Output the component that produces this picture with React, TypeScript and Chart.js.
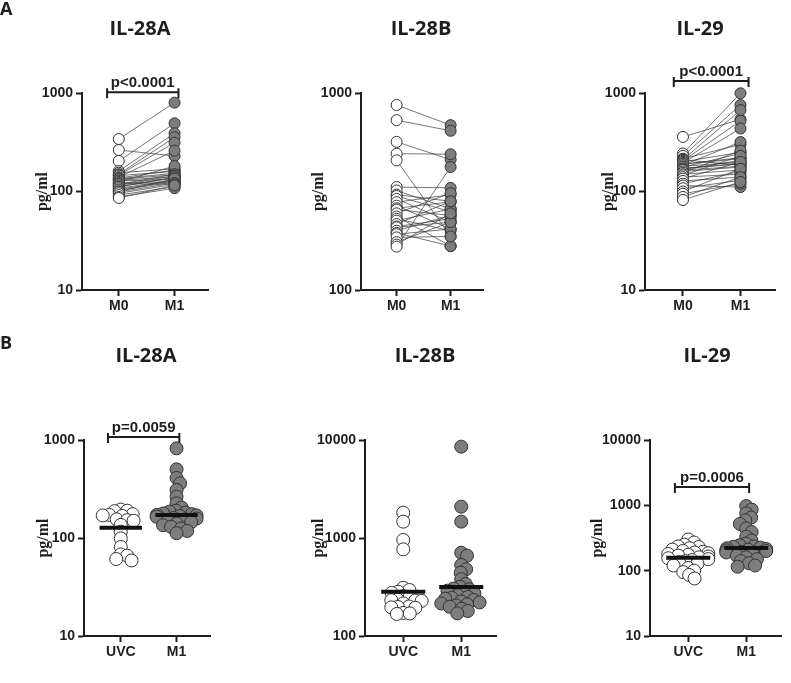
import React, { useEffect, useRef } from 'react';
import { Chart, registerables } from 'chart.js';

Chart.register(...registerables);
Chart.defaults.font.family = "'Liberation Sans', Arial, sans-serif";

// ---------- data ----------
const pairedCategories = ['M0', 'M1'];
const swarmCategories = ['UVC', 'M1'];

// Row A: paired donors (M0 -> M1)
const il28aPairM0 = [341, 264, 204, 161, 155, 150, 147, 145, 140, 137, 135, 133, 130, 128, 125, 122, 120, 118, 115, 112, 111, 108, 105, 103, 100, 99, 96, 92, 88, 86];
const il28aPairM1 = [798, 229, 492, 390, 170, 355, 313, 160, 260, 165, 153, 148, 141, 133, 181, 126, 119, 150, 145, 138, 140, 130, 128, 125, 135, 122, 118, 112, 108, 115];

const il28bPairM0 = [869, 728, 565, 492, 455, 333, 320, 305, 300, 290, 279, 268, 260, 256, 245, 236, 230, 225, 216, 210, 208, 200, 195, 192, 185, 175, 170, 166];
const il28bPairM1 = [687, 643, 459, 489, 187, 330, 258, 282, 250, 221, 305, 204, 280, 239, 310, 167, 200, 258, 282, 230, 221, 239, 167, 204, 187, 221, 245, 421];

const il29PairM0 = [358, 243, 230, 215, 210, 210, 205, 200, 195, 190, 190, 185, 180, 177, 172, 170, 168, 165, 160, 155, 150, 146, 140, 135, 128, 120, 115, 108, 100, 95, 88, 82];
const il29PairM1 = [540, 993, 755, 300, 185, 671, 521, 250, 436, 220, 215, 318, 200, 243, 190, 195, 207, 180, 177, 260, 165, 230, 150, 200, 140, 160, 111, 130, 170, 120, 140, 125];

// Row B: UVC vs M1
const il28aUVC = [195, 190, 188, 175, 172, 170, 168, 155, 152, 150, 136, 116, 99, 81, 68, 66, 61, 59];
const il28aM1 = [822, 502, 410, 361, 309, 264, 226, 205, 190, 186, 182, 178, 175, 172, 170, 168, 165, 160, 158, 155, 150, 145, 140, 135, 130, 125, 118, 112];
const il28aMedians = [127, 172];

const il28bUVC = [1811, 1469, 955, 766, 310, 295, 283, 275, 255, 250, 235, 232, 230, 228, 215, 200, 198, 196, 194, 172, 170, 168];
const il28bM1 = [8551, 2089, 1469, 708, 660, 530, 480, 443, 380, 340, 318, 305, 300, 290, 280, 272, 260, 250, 245, 240, 233, 225, 220, 215, 210, 205, 199, 190, 180, 170];
const il28bMedians = [283, 316];

const il29UVC = [300, 270, 250, 235, 230, 220, 210, 200, 195, 190, 185, 180, 175, 170, 165, 160, 155, 150, 145, 140, 135, 128, 120, 110, 100, 95, 86, 76];
const il29M1 = [975, 860, 754, 650, 590, 520, 443, 390, 331, 290, 260, 245, 235, 232, 225, 220, 215, 210, 205, 200, 195, 190, 180, 170, 160, 150, 140, 130, 120, 115];
const il29Medians = [158, 222];

const ticks10to1000 = [10, 100, 1000];
const ticks100to1000 = [100, 1000];
const ticks100to10000 = [100, 1000, 10000];
const ticks10to10000 = [10, 100, 1000, 10000];

// ---------- layout ----------
type Bracket = { x0: number; x1: number; y: number; text: string };
type Panel = {
  key: string; left: number; top: number; width: number; height: number;
  padLeft: number; padRight: number; padTop: number; yWidth: number; xHeight: number;
  yMin: number; yMax: number; yTicks: number[];
  title: string; titleX: number; titleY: number;
  letter?: string; letterY?: number;
  cats: string[]; kind: 'paired' | 'swarm';
  a: number[]; b: number[]; medians?: number[];
  bracket?: Bracket; radius: number;
};

const panels: Panel[] = [
  { key: 'a1', left: 0, top: 0, width: 260, height: 330, padLeft: 33, padRight: 52, padTop: 93, yWidth: 49, xHeight: 40,
    yMin: 10, yMax: 1000, yTicks: ticks10to1000, title: 'IL-28A', titleX: 140, titleY: 35, letter: 'A', letterY: 15,
    cats: pairedCategories, kind: 'paired', a: il28aPairM0, b: il28aPairM1,
    bracket: { x0: 0.79, x1: 2.07, y: 1020, text: 'p<0.0001' }, radius: 5.5 },
  { key: 'a2', left: 270, top: 0, width: 250, height: 330, padLeft: 39, padRight: 37, padTop: 93, yWidth: 52, xHeight: 40,
    yMin: 100, yMax: 1000, yTicks: ticks100to1000, title: 'IL-28B', titleX: 421, titleY: 35,
    cats: pairedCategories, kind: 'paired', a: il28bPairM0, b: il28bPairM1, radius: 5.5 },
  { key: 'a3', left: 540, top: 0, width: 251, height: 330, padLeft: 59, padRight: 16, padTop: 93, yWidth: 46, xHeight: 40,
    yMin: 10, yMax: 1000, yTicks: ticks10to1000, title: 'IL-29', titleX: 700, titleY: 35,
    cats: pairedCategories, kind: 'paired', a: il29PairM0, b: il29PairM1,
    bracket: { x0: 0.84, x1: 2.14, y: 1325, text: 'p<0.0001' }, radius: 5.5 },
  { key: 'b1', left: 0, top: 330, width: 260, height: 353, padLeft: 34, padRight: 50, padTop: 110, yWidth: 50, xHeight: 47,
    yMin: 10, yMax: 1000, yTicks: ticks10to1000, title: 'IL-28A', titleX: 146, titleY: 362, letter: 'B', letterY: 349,
    cats: swarmCategories, kind: 'swarm', a: il28aUVC, b: il28aM1, medians: il28aMedians,
    bracket: { x0: 0.77, x1: 2.05, y: 1070, text: 'p=0.0059' }, radius: 6.5 },
  { key: 'b2', left: 270, top: 330, width: 250, height: 353, padLeft: 39, padRight: 24, padTop: 110, yWidth: 56, xHeight: 47,
    yMin: 100, yMax: 10000, yTicks: ticks100to10000, title: 'IL-28B', titleX: 425, titleY: 362,
    cats: swarmCategories, kind: 'swarm', a: il28bUVC, b: il28bM1, medians: il28bMedians, radius: 6.5 },
  { key: 'b3', left: 540, top: 330, width: 251, height: 353, padLeft: 48, padRight: 10, padTop: 110, yWidth: 62, xHeight: 47,
    yMin: 10, yMax: 10000, yTicks: ticks10to10000, title: 'IL-29', titleX: 707, titleY: 362,
    cats: swarmCategories, kind: 'swarm', a: il29UVC, b: il29M1, medians: il29Medians,
    bracket: { x0: 0.77, x1: 2.05, y: 1905, text: 'p=0.0006' }, radius: 6.5 },
];

const INK = '#1e1e1e';
const GRAY = '#7d7d7d';

// Beeswarm arrangement: spreads overlapping points sideways around their category centre
function beeswarm(els: any[], d: number, maxOff: number) {
  if (!els.length) return;
  const cx = els[0].x;
  const idx = els.map((_: any, i: number) => i).sort((i: number, j: number) => els[i].y - els[j].y);
  const placed: { x: number; y: number }[] = [];
  for (const i of idx) {
    const y = els[i].y;
    const cands = [0];
    for (const p of placed) {
      const dy = Math.abs(p.y - y);
      if (dy < d) {
        const dx = Math.sqrt(d * d - dy * dy);
        cands.push(p.x - cx + dx, p.x - cx - dx);
      }
    }
    cands.sort((a, b) => Math.abs(a) - Math.abs(b));
    let off = cands[cands.length - 1];
    for (const c of cands) {
      if (placed.every((p) => (p.x - cx - c) ** 2 + (p.y - y) ** 2 >= d * d - 0.01)) { off = c; break; }
    }
    if (Math.abs(off) > maxOff) off = Math.sign(off) * maxOff;
    placed.push({ x: cx + off, y });
    els[i].x = cx + off;
  }
}

function makeDecor(p: Panel) {
  return {
    id: 'decor_' + p.key,
    afterDatasetsUpdate(chart: any) {
      if (p.kind !== 'swarm') return;
      chart.data.datasets.forEach((ds: any, i: number) => {
        if (ds.swarm) beeswarm(chart.getDatasetMeta(i).data, p.radius * 2 * 0.5, 20);
      });
    },
    afterDraw(chart: any) {
      const ctx = chart.ctx;
      ctx.save();
      ctx.fillStyle = INK;
      ctx.textAlign = 'center';
      ctx.textBaseline = 'alphabetic';
      ctx.font = "bold 20px 'Open Sans'";
      ctx.fillText(p.title, p.titleX - p.left, p.titleY - p.top);
      if (p.letter) {
        ctx.textAlign = 'left';
        ctx.font = "bold 18px 'Open Sans'";
        ctx.fillText(p.letter, 0, (p.letterY || 0) - p.top);
      }
      if (p.bracket) {
        const xs = chart.scales.x;
        const ys = chart.scales.y;
        const x0 = xs.getPixelForValue(p.bracket.x0);
        const x1 = xs.getPixelForValue(p.bracket.x1);
        const y = ys.getPixelForValue(p.bracket.y);
        ctx.strokeStyle = INK;
        ctx.lineWidth = 2;
        ctx.beginPath();
        ctx.moveTo(x0, y); ctx.lineTo(x1, y);
        ctx.moveTo(x0, y - 4); ctx.lineTo(x0, y + 6);
        ctx.moveTo(x1, y - 4); ctx.lineTo(x1, y + 6);
        ctx.stroke();
        ctx.textAlign = 'center';
        ctx.font = "bold 15px 'Liberation Sans'";
        ctx.fillText(p.bracket.text, (x0 + x1) / 2, y - 5);
      }
      ctx.restore();
    },
  };
}

function buildDatasets(p: Panel) {
  const ds: any[] = [];
  const pointCommon = { borderColor: '#333', borderWidth: 1, pointRadius: p.radius, pointHoverRadius: p.radius, showLine: false, clip: false };
  if (p.kind === 'swarm' && p.medians) {
    p.medians.forEach((m, i) => {
      ds.push({ label: 'median' + i, data: [{ x: i + 1 - 0.38, y: m }, { x: i + 1 + 0.38, y: m }], showLine: true, borderColor: '#111', borderWidth: 4, pointRadius: 0, order: -1, clip: false });
    });
  }
  ds.push({ ...pointCommon, label: p.cats[1], data: p.b.map((v) => ({ x: 2, y: v })), backgroundColor: GRAY, pointBackgroundColor: GRAY, order: 0, swarm: p.kind === 'swarm' });
  ds.push({ ...pointCommon, label: p.cats[0], data: p.a.map((v) => ({ x: 1, y: v })), backgroundColor: '#ffffff', pointBackgroundColor: '#ffffff', order: 1, swarm: p.kind === 'swarm' });
  if (p.kind === 'paired') {
    p.a.forEach((v, i) => {
      ds.push({ label: 'pair' + i, data: [{ x: 1, y: v }, { x: 2, y: p.b[i] }], showLine: true, borderColor: '#3a3a3a', borderWidth: 0.7, pointRadius: 0, order: 5, clip: false });
    });
  }
  return ds;
}

function PanelChart({ p }: { p: Panel }) {
  const ref = useRef<HTMLCanvasElement | null>(null);
  useEffect(() => {
    if (!ref.current) return;
    const chart = new Chart(ref.current, {
      type: 'scatter',
      data: { datasets: buildDatasets(p) },
      options: {
        responsive: false,
        animation: false,
        events: [],
        layout: { padding: { left: p.padLeft, right: p.padRight, top: p.padTop, bottom: 0 } },
        plugins: { legend: { display: false }, tooltip: { enabled: false }, title: { display: false } },
        scales: {
          x: {
            type: 'linear', min: 0.34, max: 2.6,
            afterBuildTicks: (s: any) => { s.ticks = [{ value: 1 }, { value: 2 }]; },
            afterFit: (s: any) => { s.height = p.xHeight; },
            grid: { display: true, drawOnChartArea: false, drawTicks: true, tickLength: 6, tickWidth: 2, tickColor: INK },
            border: { display: true, width: 2, color: INK },
            ticks: { autoSkip: false, maxRotation: 0, padding: 2, color: INK, font: { size: 14, weight: 'bold' },
              callback: (_v: any, i: number) => p.cats[i] },
          },
          y: {
            type: 'logarithmic', min: p.yMin, max: p.yMax,
            afterBuildTicks: (s: any) => { s.ticks = p.yTicks.map((v) => ({ value: v })); },
            afterFit: (s: any) => { s.width = p.yWidth; },
            grid: { display: true, drawOnChartArea: false, drawTicks: true, tickLength: 6, tickWidth: 2, tickColor: INK },
            border: { display: true, width: 2, color: INK },
            ticks: { autoSkip: false, padding: 3, color: INK, font: { size: 14, weight: 'bold' },
              callback: (v: any) => String(v) },
            title: { display: true, text: 'pg/ml', color: INK, padding: { top: 0, bottom: 0 },
              font: { family: "'Liberation Serif', 'Times New Roman', serif", size: 16, weight: 'bold' } },
          },
        },
      } as any,
      plugins: [makeDecor(p)],
    });
    return () => chart.destroy();
  }, [p]);
  return (
    <canvas ref={ref} width={p.width} height={p.height}
      style={{ position: 'absolute', left: p.left, top: p.top, width: p.width, height: p.height }} />
  );
}

export default function App() {
  return (
    <div style={{ position: 'absolute', left: 0, top: 0, width: 791, height: 683, background: '#fff' }}>
      {panels.map((p) => <PanelChart key={p.key} p={p} />)}
    </div>
  );
}
